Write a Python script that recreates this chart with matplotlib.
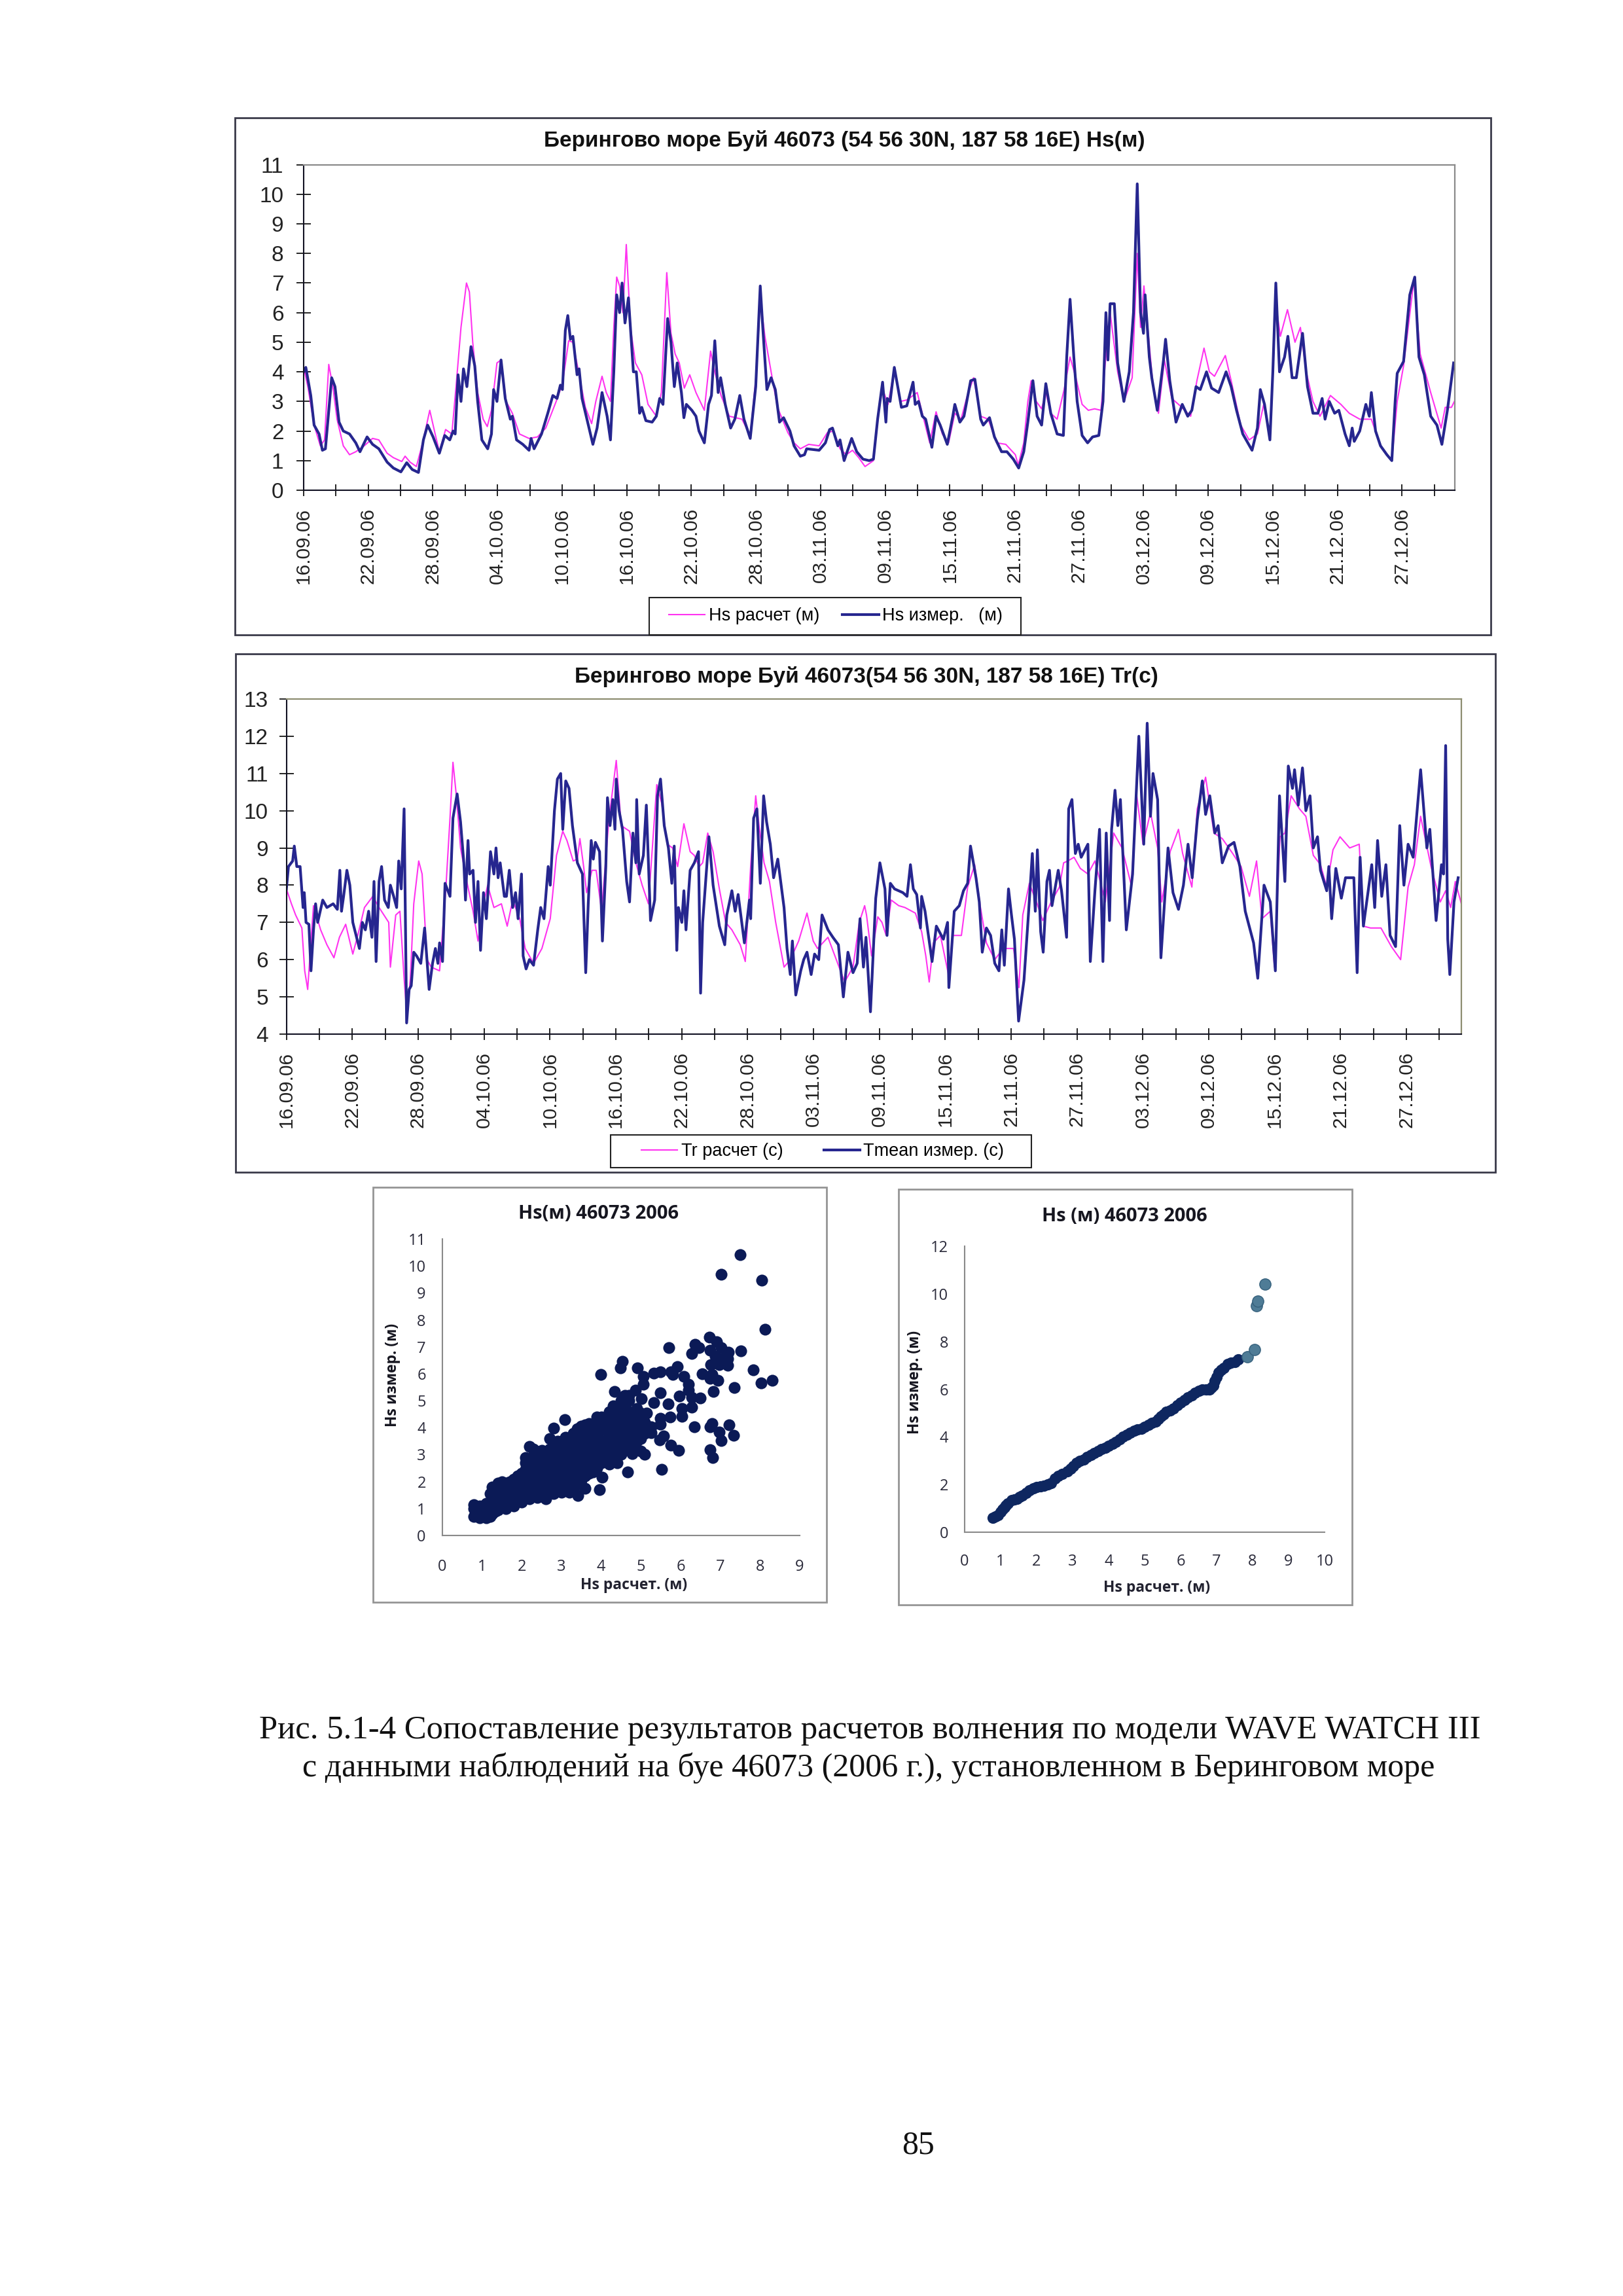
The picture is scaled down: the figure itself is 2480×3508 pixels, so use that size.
import matplotlib
matplotlib.use("Agg")
import matplotlib.pyplot as plt
from matplotlib.patches import Rectangle
import numpy as np

W, H = 2480, 3508
SANS = ['Liberation Sans', 'DejaVu Sans']
SERIF = ['Liberation Serif', 'DejaVu Serif']
NOTO = ['Open Sans', 'Noto Sans', 'DejaVu Sans']
MAGENTA = '#ff33f0'
NAVY = '#26268f'

date_labels = ['16.09.06', '22.09.06', '28.09.06', '04.10.06', '10.10.06', '16.10.06', '22.10.06', '28.10.06',
               '03.11.06', '09.11.06', '15.11.06', '21.11.06', '27.11.06', '03.12.06', '09.12.06', '15.12.06',
               '21.12.06', '27.12.06']

hs_calc = [(0,4.15),(.39,3.5),(.97,2.2),(1.55,1.5),(1.94,1.7),(2.33,4.25),(2.71,3.5),(3.1,2.4),(3.68,1.5),(4.26,1.2),(4.84,1.3),(5.62,1.5),(6.4,1.75),(6.98,1.7),(7.75,1.25),(8.33,1.1),(9.11,.97),(9.42,1.15),(9.88,.95),(10.47,.8),(11.05,1.6),(11.71,2.7),(12.21,1.9),(12.6,1.3),(13.18,2.05),(13.76,1.9),(14.15,3.5),(14.61,5.5),(15.12,7),(15.39,6.7),(15.7,5),(16.16,3.3),(16.67,2.4),(17.05,2.15),(17.44,2.7),(17.95,4.3),(18.33,4.4),(18.8,3),(19.38,2.6),(20.04,1.9),(20.93,1.75),(21.71,1.8),(22.48,2.1),(23.45,3),(24.03,3.6),(24.61,5.05),(25,5),(25.58,3.9),(26.16,2.8),(26.74,2.25),(27.13,3),(27.71,3.85),(28.1,3.3),(28.49,3),(28.8,5.5),(29.07,7.2),(29.34,6.9),(29.65,6),(29.96,8.3),(30.35,5.5),(30.81,4.3),(31.4,3.9),(31.98,2.9),(32.75,2.5),(33.22,3.3),(33.72,7.35),(34.11,5.3),(34.5,4.6),(34.88,4.3),(35.35,3.45),(35.85,3.9),(36.43,3.3),(37.21,2.7),(37.79,4.7),(38.18,4),(38.76,3.2),(39.53,2.5),(40.7,2.4),(41.47,1.85),(42.05,4),(42.4,6.5),(42.83,5.2),(43.41,4),(44,2.8),(44.96,1.95),(45.54,1.6),(46.12,1.4),(46.9,1.55),(47.87,1.5),(48.64,1.95),(49.22,2),(49.81,1.4),(50.39,1.2),(50.97,1.35),(51.55,1.1),(52.13,.8),
(52.91,1.0),(53.3,2.3),(53.69,3.5),(54.27,2.9),(54.85,4.1),(55.43,3),(56.01,3.05),(56.98,3.3),(57.45,2.6),(58.14,1.6),(58.73,2.65),(59.31,1.9),(59.89,1.6),(60.47,2.6),(61.05,2.4),(61.63,3.2),(62.21,3.8),(62.87,2.5),(63.57,2.4),(64.35,1.6),(65.2,1.55),(66.09,1.2),(66.36,.85),(66.87,1.6),(67.25,3),(67.56,3.7),(68.03,3),(68.53,2.75),(68.92,3.3),(69.38,2.6),(69.97,2.4),(70.62,3.4),(71.17,4.5),(71.71,3.8),(72.29,2.9),(72.87,2.7),(73.45,2.75),(74.04,2.7),(74.42,4.2),(74.89,6),(75.59,4),(76.17,3),(76.94,3.8),(77.41,8),(77.72,5.5),(78.03,6.9),(78.38,5.5),(78.88,3.5),(79.38,2.6),(79.93,4.4),(80.62,3.1),(81.4,2.85),(82.37,2.5),(82.95,3.7),(83.61,4.8),(84.11,4),(84.58,3.85),(85.59,4.55),(86.13,3.7),(87.02,2.2),(87.8,1.7),(88.57,1.9),(89.15,2.9),(89.73,1.8),(90.28,6.3),(90.7,5.2),(91.36,6.1),(92.06,5),(92.56,5.5),(93.1,4),(93.73,3),(94.38,2.5),(95.35,3.2),(96.32,2.9),(97.1,2.6),(98.07,2.4),(99.15,2.4),(100,1.5),(101.05,1),(101.55,3),(102.14,4.2),(103.1,7.1),(103.69,4.6),(104.66,3.3),(105.63,2.1),(106.01,2.8),(106.59,2.8),(106.86,3)]

hs_meas = [(0,4.0),(.2,4.15),(.66,3.2),(.97,2.2),(1.43,1.9),(1.74,1.35),(2.02,1.4),(2.6,3.8),(2.91,3.5),(3.29,2.3),(3.68,2.0),(4.26,1.9),(4.84,1.6),(5.23,1.3),(5.89,1.8),(6.4,1.55),(6.98,1.4),(7.75,.95),(8.33,.75),(9.03,.62),(9.57,.93),(10.08,.7),(10.66,.6),(11.12,1.7),(11.51,2.2),(12.02,1.8),(12.6,1.25),(13.1,1.85),(13.57,1.7),(13.88,2.0),(14.07,1.9),(14.34,3.9),(14.61,3.0),(14.84,4.1),(15.16,3.5),(15.54,4.85),(15.89,4.2),(16.16,3.0),(16.55,1.7),(17.09,1.4),(17.44,1.9),(17.64,3.4),(17.95,3.0),(18.33,4.4),(18.72,3.1),(19.19,2.4),(19.38,2.5),(19.77,1.7),(20.35,1.55),(20.93,1.35),(21.12,1.75),(21.4,1.4),(22.09,1.9),(22.67,2.6),(23.14,3.2),(23.53,3.1),(23.84,3.55),(24.03,3.4),(24.3,5.4),(24.53,5.9),(24.77,5.1),(25,5.2),(25.39,3.9),(25.58,4.1),(25.85,3.1),(26.24,2.5),(26.86,1.55),(27.25,2.1),(27.71,3.3),(28.18,2.5),(28.49,1.7),(28.8,4.0),(29.07,6.6),(29.34,6.0),(29.57,7.0),(29.84,5.65),(30.16,6.5),(30.62,4.0),(30.89,4.0),(31.2,2.6),(31.4,2.8),(31.78,2.35),(32.36,2.3),(32.75,2.5),(33.06,3.1),(33.37,2.9),(33.8,5.8),(34.11,5.0),(34.42,3.5),(34.69,4.3),(35.08,3.3),(35.31,2.45),(35.54,2.9),(36.05,2.7),(36.43,2.5),(36.71,2.0),(37.21,1.6),(37.6,2.9),(37.87,3.2),(38.18,5.05),(38.49,3.3),(38.72,3.8),(39.15,2.9),(39.65,2.1),(40.04,2.4),(40.5,3.2),(40.89,2.4),(41.47,1.75),(41.98,3.5),(42.4,6.9),(42.67,5.3),(43.02,3.4),(43.41,3.8),(43.8,3.4),(44.19,2.3),(44.57,2.45),(45.16,2.0),(45.54,1.5),(46.12,1.15),(46.51,1.2),(46.71,1.4),(47.87,1.35),(48.45,1.6),(48.84,2.05),(49.11,2.1),(49.61,1.5),(49.81,1.7),(50.19,1.0),(50.47,1.3),(50.89,1.75),(51.36,1.3),(51.94,1.05),(52.52,1.0),(52.91,1.05),
(53.3,2.4),(53.76,3.65),(54.07,2.3),(54.19,3.1),(54.46,3.0),(54.85,4.15),(55.12,3.6),(55.51,2.8),(56.01,2.85),(56.59,3.65),(56.79,2.9),(57.1,3.0),(57.45,2.5),(57.76,2.4),(58.34,1.45),(58.73,2.5),(59.11,2.2),(59.77,1.55),(60.28,2.5),(60.47,2.9),(60.94,2.3),(61.32,2.5),(61.94,3.7),(62.33,3.75),(62.87,2.4),(63.11,2.2),(63.69,2.45),(64.15,1.8),(64.81,1.3),(65.31,1.3),(65.9,1.05),(66.4,.75),(66.87,1.3),(67.25,2.3),(67.72,3.7),(68.11,2.5),(68.53,2.2),(68.92,3.6),(69.38,2.6),(69.97,1.9),(70.55,1.85),(70.86,4.5),(71.17,6.45),(71.52,4.5),(71.83,3.0),(72.29,1.85),(72.8,1.6),(73.26,1.8),(73.84,1.85),(74.23,3.0),(74.5,6.0),(74.69,4.4),(74.89,6.3),(75.28,6.3),(75.59,4.3),(76.17,3),(76.67,4.0),(77.06,6.0),(77.41,10.35),(77.72,6.0),(77.99,5.3),(78.14,6.6),(78.53,4.5),(78.76,3.8),(79.27,2.7),(79.85,4.4),(80.04,5.1),(80.43,3.7),(81.01,2.3),(81.59,2.9),(82.1,2.5),(82.48,2.7),(82.87,3.5),(83.26,3.4),(83.84,4.0),(84.31,3.45),(84.97,3.3),(85.66,4.0),(86.13,3.5),(86.63,2.7),(87.21,1.9),(88.07,1.35),(88.57,2.1),(88.84,3.4),(89.23,2.9),(89.73,1.7),(90,4),(90.28,7.0),(90.62,4.0),(91.09,4.5),(91.4,5.2),(91.79,3.8),(92.18,3.8),(92.76,5.3),(93.22,3.5),(93.73,2.6),(94.19,2.6),(94.58,3.1),(94.85,2.4),(95.24,3.0),(95.74,2.6),(96.13,2.7),(96.71,1.9),(97.1,1.5),(97.37,2.1),(97.56,1.65),(98.07,2.0),(98.64,2.9),(98.96,2.5),(99.15,3.3),(99.54,2.0),(100,1.5),(100.59,1.2),(101.05,1.0),(101.36,3.0),(101.55,3.95),(102.14,4.35),(102.72,6.6),(103.18,7.2),(103.57,4.5),(104.07,3.9),(104.66,2.5),(105.24,2.2),(105.7,1.55),(106.21,2.7),(106.79,4.3)]

tr_calc = [(0,7.9),(.46,7.5),(.84,7.2),(1.41,6.85),(1.67,5.7),(1.94,5.2),(2.24,6.5),(2.47,7.45),(3.12,6.8),(3.69,6.4),(4.33,6.05),(4.83,6.6),(5.4,6.95),(6.05,6.15),(6.54,6.7),(7.11,7.4),(7.87,7.7),(8.44,7.4),(9.32,7.0),(9.47,5.8),(9.96,7.2),(10.34,7.3),(10.72,5.5),(10.99,4.45),(11.29,5.5),(11.6,7.5),(12.05,8.65),(12.36,8.3),(12.81,6),(13.19,5.8),(13.95,5.7),(14.52,7.9),(14.9,9.8),(15.17,11.3),(15.48,10.4),(15.86,9),(16.43,8.1),(17,7.3),(17.45,6.5),(17.95,7.5),(18.33,8),(18.9,7.4),(19.58,7.5),(20.11,6.9),(20.61,7.6),(21.25,7.1),(21.75,6.3),(22.51,5.9),(23.27,6.3),(24.03,7.1),(24.6,8.8),(25.17,9.45),(25.55,9.2),(26.12,8.65),(26.5,8.7),(26.73,9.25),(27.07,8.5),(27.34,7.8),(27.83,8.4),(28.21,8.4),(28.71,7.3),(29.35,9.7),(30.04,11.35),(30.49,9.6),(31.25,9.45),(31.83,8.6),(32.4,8),(32.97,7.5),(33.73,10.7),(34.18,10.2),(34.68,9.1),(35.17,9),(35.63,8.5),(36.2,9.65),(36.77,8.9),(37.15,8.8),(37.6,8.5),(37.91,8.6),(38.37,9.4),(38.86,8.9),(39.43,7.9),(40,7),(40.57,6.8),(41.33,6.4),(41.79,5.95),(42.28,8.5),(42.74,10.4),(43.04,9.6),(43.5,8.6),(43.99,8.1),(44.56,7),(45.32,5.8),(45.89,6),(46.65,6.5),(47.41,7.25),(47.98,6.5),(48.37,6.3),(49.32,6.6),(50.08,6),(50.84,5.4),(51.6,5.8),(52.17,7),(52.66,7.45),(52.83,7.2),(53.29,6.1),(53.86,7.15),(54.24,7),(54.62,6.65),(55.08,7.6),(55.76,7.45),(56.33,7.4),(57.28,7.25),(57.85,6.75),(58.23,6.1),(58.54,5.4),(58.92,6.45),(59.56,6.65),(60.33,5.55),(60.71,6.65),(61.47,6.65),(62.04,7.95),(62.68,8.55),(63.18,7.45),(63.75,6.45),(64.51,6),(65.27,6.3),(66.22,6.3),(66.71,5.25),(67.06,7.2),(67.66,8.05),(68.31,7.55),(68.88,7.05),(69.64,7.55),(70.4,7.95),(70.78,8.6),(71.16,8.65),(71.73,8.75),(72.3,8.45),(72.99,8.3),(73.63,8.65),(74.2,8),(74.58,7.55),(75.34,9.4),(76.1,9),(76.94,8),(77.44,10.4),(78.01,9.1),(78.69,9.95),(79.34,9),(79.72,7.55),(80.48,8.9),(81.24,9.5),(81.62,8.85),(82.46,7.95),(82.95,10.05),(83.71,10.9),(84.47,9.4),(85.23,9.25),(86.18,8.85),(86.94,8.5),(87.7,7.7),(88.35,8.65),(88.84,7.1),(89.6,7.3),(89.98,5.8),(90.48,9.3),(90.93,9.4),(91.5,10.4),(92.26,10.05),(92.84,9.85),(93.52,8.8),(94.17,8.55),(94.74,7.95),(95.31,8.95),(95.95,9.3),(96.83,9),(97.7,9.1),(98.08,6.9),(98.73,6.85),(99.68,6.85),(100.63,6.35),(101.47,6),(102.15,7.95),(102.72,8.55),(103.29,9.85),(104.24,8.5),(105.08,7.55),(105.57,7.85),(106.03,7.4),(106.45,8.1),(107,7.5)]

tr_meas = [(0,7.9),(.19,8.5),(.57,8.65),(.72,9.05),(.95,8.5),(1.25,8.5),(1.52,7.4),(1.63,7.8),(1.79,7.0),(2.05,6.95),(2.24,5.7),(2.47,6.8),(2.66,7.5),(2.85,7.0),(3.31,7.6),(3.69,7.4),(4.26,7.5),(4.64,7.35),(4.87,8.4),(5.02,7.3),(5.21,7.7),(5.51,8.4),(5.78,8.0),(6.05,7.0),(6.35,6.65),(6.65,6.3),(6.92,7.0),(7.19,6.8),(7.49,7.3),(7.79,6.6),(7.98,8.1),(8.17,5.95),(8.44,8.1),(8.67,8.5),(8.94,7.6),(9.28,7.4),(9.47,8.0),(9.77,7.7),(10.04,7.4),(10.23,8.65),(10.46,7.9),(10.72,10.05),(10.95,4.3),(11.18,5.2),(11.37,5.3),(11.6,6.2),(11.86,6.1),(12.24,5.9),(12.59,6.85),(13,5.2),(13.31,5.9),(13.57,6.3),(13.8,5.9),(13.95,6.45),(14.22,5.95),(14.45,8.05),(14.9,7.7),(15.17,9.8),(15.55,10.45),(15.86,9.7),(16.16,8.6),(16.31,7.6),(16.54,9.2),(16.69,8.3),(17,8.4),(17.22,7.0),(17.45,8.1),(17.68,6.25),(17.95,7.8),(18.21,7.1),(18.59,8.9),(18.9,8.3),(19.09,9.0),(19.28,8.2),(19.47,8.6),(19.85,7.7),(20.04,7.7),(20.3,8.4),(20.61,7.4),(20.87,7.8),(21.1,7.1),(21.41,8.3),(21.56,6.1),(21.83,5.75),(22.13,6.0),(22.51,5.85),(22.89,6.8),(23.16,7.4),(23.46,7.1),(23.84,8.5),(24.03,8.0),(24.41,10.0),(24.68,10.85),(24.98,11.0),(25.17,9.5),(25.44,10.8),(25.74,10.6),(26.05,9.6),(26.5,8.6),(26.96,8.3),(27.26,5.65),(27.49,7.5),(27.76,9.2),(27.95,8.7),(28.14,9.15),(28.52,8.9),(28.78,6.5),(29.09,8.5),(29.24,10.35),(29.47,9.6),(29.73,10.3),(29.92,9.5),(30.04,10.85),(30.3,10),(30.61,9.5),(30.99,8.1),(31.25,7.55),(31.56,9.4),(31.83,8.6),(31.9,10.3),(32.13,8.3),(32.51,8.8),(32.78,10.15),(33.16,7.05),(33.54,7.6),(33.8,10.4),(34.07,10.85),(34.41,9.6),(34.79,9.0),(35.1,8.05),(35.32,9.05),(35.55,6.25),(35.7,7.4),(36.01,7.0),(36.2,7.85),(36.39,6.8),(36.77,8.4),(37.15,8.6),(37.53,8.9),(37.72,5.1),(37.91,7),(38.48,9.3),(38.86,8),(39.43,6.9),(39.92,6.4),(40.11,7.2),(40.57,7.85),(40.87,7.3),(41.14,7.75),(41.71,6.45),(42.17,7.6),(42.28,7.1),(42.55,9.8),(42.85,10.05),(43.16,8.05),(43.46,10.4),(43.73,9.7),(44.07,9.1),(44.37,8.2),(44.75,8.7),(45.32,7.4),(45.59,6.3),(45.89,5.6),(46.08,6.5),(46.39,5.05),(46.84,5.7),(47.11,6.0),(47.41,6.2),(47.79,5.6),(48.1,6.15),(48.48,6.0),(48.78,7.2),(49.32,6.8),(49.77,6.6),(50.27,6.4),(50.72,5.0),(51.14,6.2),(51.6,5.65),(51.98,5.9),(52.24,7.1),(52.55,5.8),(52.78,6.6),(53.19,4.6),
(53.67,7.65),(54.05,8.6),(54.51,7.9),(54.7,6.65),(55.0,8.05),(55.38,7.9),(56.14,7.8),(56.52,7.7),(56.83,8.55),(57.09,7.9),(57.4,7.75),(57.74,6.85),(57.85,7.7),(58.16,7.3),(58.8,5.95),(59.19,6.9),(59.83,6.55),(60.21,7),(60.33,5.25),(60.82,7.3),(61.28,7.45),(61.66,7.85),(62.04,8.05),(62.3,9.05),(62.8,8.2),(63.1,7.55),(63.37,6.2),(63.75,6.85),(64.13,6.65),(64.51,5.9),(64.89,5.7),(65.15,6.8),(65.38,5.85),(65.76,7.9),(66.03,7.2),(66.3,6.55),(66.68,4.35),(67.17,5.45),(67.55,7.1),(67.93,8.85),(68.2,7.3),(68.39,8.95),(68.69,6.75),(68.92,6.2),(69.26,8.1),(69.49,8.4),(69.72,7.45),(70.29,8.4),(70.59,7.85),(71.05,6.6),(71.24,10.05),(71.54,10.3),(71.85,8.85),(72.11,9.1),(72.38,8.75),(72.99,9.1),(73.21,5.95),(73.63,7.85),(74.05,9.5),(74.36,5.95),(74.66,9.4),(74.96,7.05),(75.15,9.5),(75.46,10.55),(75.72,9.6),(75.95,10.3),(76.49,6.8),(77.06,8.3),(77.63,12),(78.08,9.1),(78.39,12.35),(78.69,9.85),(78.92,11),(79.34,10.3),(79.64,6.05),(80.29,9),(80.74,7.8),(81.24,7.35),(81.69,8),(82.11,9.1),(82.49,8.2),(82.95,9.75),(83.41,10.8),(83.71,9.9),(84.09,10.4),(84.55,9.4),(84.85,9.6),(85.23,8.6),(85.8,9.05),(86.3,9.15),(86.83,8.5),(87.32,7.3),(88.08,6.45),(88.46,5.5),(89.03,8),(89.6,7.55),(90.06,5.7),(90.44,10.4),(90.93,8.1),(91.24,11.2),(91.62,10.6),(91.81,11.1),(92.15,10.15),(92.53,11.15),(92.84,10),(93.22,10.4),(93.52,9),(93.9,9.3),(94.17,8.4),(94.74,7.85),(94.93,8.5),(95.19,7.1),(95.57,8.45),(96.07,7.65),(96.45,8.2),(97.21,8.2),(97.51,5.65),(97.78,8.75),(98.08,6.9),(98.54,7.9),(98.84,8.55),(99.11,7.4),(99.37,9.2),(99.75,7.7),(100.13,8.55),(100.51,6.65),(101.01,6.35),(101.39,9.6),(101.77,8),(102.15,9.1),(102.61,8.75),(103.29,11.1),(103.86,9),(104.13,9.5),(104.7,7.05),(105.19,8.55),(105.38,8.3),(105.57,11.75),(105.76,6.55),(105.95,5.6),(106.33,7.55),(106.71,8.2)]

scatter_pts = [(.8,.7),(.8,1.0),(.8,1.15),(.95,.65),(.95,.9),(.95,1.1),(1.1,.65),(1.1,.9),(1.1,1.2),(1.25,.8),(1.25,1.1),(1.25,1.4),(1.25,1.8),(1.4,.95),(1.4,1.25),(1.4,1.55),(1.4,1.95),(1.6,1.0),(1.6,1.3),(1.6,1.6),(1.6,1.95),(1.8,1.1),(1.8,1.45),(1.8,1.8),(1.8,2.1),(2.0,1.25),(2.0,1.6),(2.0,1.95),(2.0,2.3),(2.1,2.9),(2.2,1.35),(2.2,1.7),(2.2,2.05),(2.2,2.4),(2.2,2.75),(2.2,3.3),(2.4,1.4),(2.4,1.8),(2.4,2.2),(2.4,2.6),(2.4,3.0),(2.6,1.35),(2.6,1.8),(2.6,2.2),(2.6,2.6),(2.6,3.05),(2.8,1.55),(2.8,1.95),(2.8,2.35),(2.8,2.75),(2.8,3.1),(2.7,3.6),(2.8,3.98),(3.0,1.6),(3.0,2.0),(3.0,2.4),(3.0,2.8),(3.0,3.2),(3.0,3.5),(3.09,4.3),(3.2,1.6),(3.2,2.0),(3.2,2.4),(3.2,2.8),(3.2,3.2),(3.2,3.6),(3.42,1.47),(3.4,1.9),(3.4,2.3),(3.4,2.7),(3.4,3.1),(3.4,3.5),(3.4,3.95),(3.6,1.75),(3.6,2.2),(3.6,2.6),(3.6,3.0),(3.6,3.4),(3.6,3.8),(3.6,4.1),(3.8,2.35),(3.8,2.7),(3.8,3.1),(3.8,3.5),(3.8,3.9),(3.8,4.1),(3.95,1.7),(4.03,2.15),(4.0,2.7),(4.0,3.1),(4.0,3.5),(4.0,3.9),(4.0,4.4),(4.2,2.65),(4.2,3.0),(4.2,3.4),(4.2,3.8),(4.2,4.2),(4.2,4.6),(4.4,2.7),(4.4,3.1),(4.4,3.5),(4.4,3.9),(4.4,4.3),(4.4,4.75),(4.6,3.2),(4.6,3.6),(4.6,4.0),(4.6,4.4),(4.6,4.8),(4.6,5.2),(4.8,3.3),(4.8,3.7),(4.8,4.1),(4.8,4.5),(5.0,3.6),(5.0,4.0),(5.0,4.55),(4.66,2.35),(5.53,2.45),(4.78,3.03),(5.1,3.0),(5.0,3.13),
(7.5,10.41),(7.03,9.68),(8.05,9.47),(8.13,7.65),(8.31,5.76),(8.03,5.66),(7.83,6.15),(7.52,6.85),(5.71,6.97),(3.99,5.97),(4.54,6.45),(4.48,6.21),(4.91,6.21),(5.06,5.9),(5.33,6.03),(5.49,6.08),(5.76,6.08),(5.92,6.26),(5.8,5.97),(6.08,5.9),(6.2,5.6),(6.55,6.0),(6.28,6.74),(6.37,7.1),(6.47,6.97),(6.73,7.36),(6.91,7.18),(7.03,6.97),(7.2,6.81),(6.75,6.87),(6.87,6.66),(7.06,6.55),(7.18,6.55),(6.76,6.34),(6.98,6.34),(7.18,6.31),(6.79,5.97),(6.94,5.76),(6.75,5.82),(6.83,5.34),(7.36,5.5),(7.22,4.1),(6.79,4.15),(6.75,4.03),(6.35,4.03),(6.98,3.84),(7.34,3.71),(7.03,3.52),(6.75,3.19),(6.81,2.89),(5.95,3.15),(5.75,3.34),(5.57,3.69),(5.47,3.55),(5.49,5.29),(5.96,5.18),(6.5,5.1),(6.28,5.13),(6.04,4.71),(6.28,4.76),(6.04,4.43),(5.73,4.4),(5.69,4.87),(5.33,4.92),(5.49,4.34),(5.49,4.13),(5.26,4.03),(5.02,5.08),(4.86,5.39),(5.06,5.6),(4.33,5.34),(4.58,5.18),(5.14,4.55),(4.94,4.5),(5.26,3.82),(6.2,5.39),
(.9,.8),(.9,1.05),(1.05,.8),(1.05,1.05),(1.2,.7),(1.2,.95),(1.2,1.25),(1.2,1.55),(1.33,.9),(1.33,1.2),(1.33,1.5),(1.33,1.75),(1.5,1.1),(1.5,1.4),(1.5,1.75),(1.5,2.0),(1.7,1.15),(1.7,1.45),(1.7,1.75),(1.7,2.0),(1.9,1.3),(1.9,1.6),(1.9,1.95),(1.9,2.2),(2.1,1.4),(2.1,1.75),(2.1,2.1),(2.1,2.45),(2.1,2.7),(2.3,1.5),(2.3,1.9),(2.3,2.25),(2.3,2.6),(2.3,2.95),(2.3,3.2),(2.5,1.55),(2.5,2.0),(2.5,2.4),(2.5,2.8),(2.5,3.15),(2.7,1.6),(2.7,2.0),(2.7,2.4),(2.7,2.8),(2.7,3.2),(2.9,1.75),(2.9,2.15),(2.9,2.55),(2.9,2.95),(2.9,3.35),(2.9,3.5),(3.1,1.8),(3.1,2.2),(3.1,2.6),(3.1,3.0),(3.1,3.4),(3.1,3.65),(3.3,1.75),(3.3,2.2),(3.3,2.6),(3.3,3.0),(3.3,3.4),(3.3,3.8),(3.5,2.05),(3.5,2.45),(3.5,2.85),(3.5,3.25),(3.5,3.65),(3.5,4.05),(3.7,2.3),(3.7,2.6),(3.7,3.0),(3.7,3.4),(3.7,3.8),(3.7,4.15),(3.9,2.5),(3.9,2.9),(3.9,3.3),(3.9,3.7),(3.9,4.1),(3.9,4.4),(4.1,2.75),(4.1,3.1),(4.1,3.5),(4.1,3.9),(4.1,4.3),(4.3,2.85),(4.3,3.25),(4.3,3.65),(4.3,4.05),(4.3,4.45),(4.3,4.8),(4.5,3.0),(4.5,3.4),(4.5,3.8),(4.5,4.2),(4.5,4.6),(4.5,5.0),(4.7,3.4),(4.7,3.8),(4.7,4.2),(4.7,4.6),(4.7,5.0),(4.7,5.2),(4.9,3.5),(4.9,3.9),(4.9,4.3),(4.9,4.7),(5.1,3.8),(5.1,4.2)]

qq_pts = [(.78,.6),(.85,.65),(.92,.72),(1.0,.85),(1.05,.95),(1.1,1.05),(1.15,1.12),(1.2,1.2),(1.3,1.35),(1.38,1.38),(1.45,1.4),(1.53,1.48),(1.6,1.55),(1.7,1.65),(1.8,1.75),(1.9,1.83),(2,1.9),(2.1,1.93),(2.2,1.95),(2.3,2.0),(2.4,2.05),(2.5,2.25),(2.6,2.35),(2.7,2.45),(2.85,2.55),(2.95,2.65),(3.02,2.78),(3.1,2.9),(3.2,2.98),(3.3,3.05),(3.4,3.15),(3.5,3.25),(3.6,3.33),(3.7,3.4),(3.8,3.48),(3.9,3.55),(4.0,3.62),(4.1,3.7),(4.2,3.8),(4.3,3.9),(4.4,4.0),(4.5,4.1),(4.6,4.18),(4.7,4.25),(4.8,4.3),(4.9,4.35),(5.0,4.42),(5.1,4.5),(5.2,4.58),(5.3,4.65),(5.38,4.75),(5.45,4.85),(5.52,4.95),(5.6,5.05),(5.7,5.12),(5.8,5.2),(5.9,5.33),(6,5.45),(6.1,5.55),(6.2,5.65),(6.3,5.75),(6.4,5.85),(6.5,5.93),(6.6,6.0),(6.7,6.0),(6.8,6.0),(6.85,6.08),(6.9,6.15),(6.95,6.33),(7.0,6.5),(7.05,6.7),(7.12,6.8),(7.2,6.9),(7.3,7.05),(7.4,7.1),(7.5,7.15),(7.6,7.25)]
qq_tail = [(7.85,7.35),(8.05,7.65),(8.1,9.5),(8.15,9.7),(8.35,10.4)]


def px_axes(l, t, r, b):
    return fig.add_axes([l / W, 1 - b / H, (r - l) / W, (b - t) / H])


def frame(l, t, r, b, color, lw):
    fig.add_artist(Rectangle((l / W, 1 - b / H), (r - l) / W, (b - t) / H, transform=fig.transFigure,
                             fill=False, edgecolor=color, linewidth=lw))


def text_px(x, y, s, **kw):
    fig.text(x / W, 1 - y / H, s, ha='center', va='center', **kw)


def series_chart(box, calc, meas, xmax, ymin, ymax, edge, ypad, xpad, legend_center, labels, col_space):
    ax = px_axes(*box)
    ax.plot(*zip(*calc), color=MAGENTA, lw=1.5, label=labels[0], solid_joinstyle='round')
    ax.plot(*zip(*meas), color=NAVY, lw=3.0, label=labels[1], solid_joinstyle='round')
    ax.set_xlim(0, xmax)
    ax.set_ylim(ymin, ymax)
    ax.set_yticks(range(ymin, ymax + 1))
    ax.set_xticks(np.arange(0, 106, 3), minor=True)
    ax.set_xticks(np.arange(0, 6 * len(date_labels), 6))
    ax.set_xticklabels(date_labels, rotation=90, family=SANS, fontsize=21.5, color='#222222')
    for label in ax.get_yticklabels():
        label.set_family(SANS)
    ax.tick_params(axis='y', direction='inout', length=16, width=1.2, labelsize=24, pad=ypad, labelcolor='#222222')
    ax.tick_params(axis='x', which='both', direction='inout', length=13, width=1.2, pad=xpad)
    for side in ('top', 'right'):
        ax.spines[side].set_color(edge)
        ax.spines[side].set_linewidth(1.6)
    for side in ('left', 'bottom'):
        ax.spines[side].set_color('#111122')
        ax.spines[side].set_linewidth(1.5)
    ax.legend(loc='center', bbox_to_anchor=(legend_center[0] / W, 1 - legend_center[1] / H),
              bbox_transform=fig.transFigure, ncols=2, frameon=False, prop={'family': SANS, 'size': 19.5},
              handlelength=2.05, handletextpad=0.2, columnspacing=col_space, borderpad=0, borderaxespad=0)
    return ax


def scatter_chart(box, xmax, ymax, yticks, title, tc, ylab_x, ylab_y, xlab_c, pts, xpad, tail=None, color='#0b1a56', s=170):
    ax = px_axes(*box)
    ax.scatter(*zip(*pts), s=s, color=color, clip_on=False, linewidths=0, zorder=3)
    if tail:
        ax.scatter(*zip(*tail), s=s, color='#4f7c96', edgecolors='#35607c', linewidths=1, clip_on=False, zorder=3)
    ax.set_xlim(0, xmax)
    ax.set_ylim(0, ymax)
    ax.set_xticks(range(0, xmax + 1))
    ax.set_yticks(yticks)
    for label in ax.get_xticklabels() + ax.get_yticklabels():
        label.set_family(NOTO)
    ax.tick_params(axis='both', length=0, labelsize=17, labelcolor='#2a2a3a')
    ax.tick_params(axis='x', pad=xpad)
    ax.tick_params(axis='y', pad=18)
    ax.spines[['top', 'right']].set_visible(False)
    ax.spines[['left', 'bottom']].set_color('#8a8a8a')
    ax.spines[['left', 'bottom']].set_linewidth(1.5)
    text_px(tc[0], tc[1], title, family=NOTO, fontsize=21, fontweight='bold', color='#161620')
    text_px(xlab_c[0], xlab_c[1], 'Hs расчет. (м)', family=NOTO, fontsize=16.5, fontweight='bold', color='#222230')
    text_px(ylab_x, ylab_y, 'Hs измер. (м)', family=NOTO, fontsize=16.5, fontweight='bold', rotation=90, color='#161620')
    return ax


fig = plt.figure(figsize=(W / 100, H / 100), dpi=100, facecolor='white')

frame(359, 180, 2278, 970, '#3a3a4a', 2)
frame(360, 999, 2285, 1791, '#3a3a4a', 2)
frame(570, 1814, 1263, 2448, '#959595', 2)
frame(1373, 1817, 2066, 2452, '#959595', 2)
frame(992, 913, 1560, 970, '#222222', 1.5)
frame(933, 1734, 1575.5, 1784, '#222222', 1.5)

series_chart((464, 251.5, 2223, 749), hs_calc, hs_meas, 106.9, 0, 11, '#8a8a8a', 14, 13, (1277, 941),
             ('Hs расчет (м)', 'Hs измер.   (м)'), 1.3)
text_px(1290, 215, 'Берингово море Буй 46073 (54 56 30N, 187 58 16E) Hs(м)', family=SANS, fontsize=24,
        fontweight='bold', color='#111111')

series_chart((437.6, 1068, 2233, 1580), tr_calc, tr_meas, 107, 4, 13, '#8d8d70', 12, 13, (1257, 1759),
             ('Tr расчет (с)', 'Tmean измер. (с)'), 2.3)
text_px(1324, 1034, 'Берингово море Буй 46073(54 56 30N, 187 58 16E) Tr(с)', family=SANS, fontsize=24,
        fontweight='bold', color='#111111')

scatter_chart((675.8, 1893, 1222, 2346), 9, 11, range(0, 12), 'Hs(м) 46073 2006', (915, 1855), 600, 2101, (969, 2422),
              scatter_pts, 26)
scatter_chart((1474, 1904, 2024, 2341), 10, 12, range(0, 13, 2), 'Hs (м) 46073 2006', (1718, 1858), 1398, 2112, (1768, 2426),
              qq_pts, 24, tail=qq_tail, color='#0e2760', s=155)

text_px(1329, 2644, 'Рис. 5.1-4 Сопоставление результатов расчетов волнения по модели WAVE WATCH III',
        family=SERIF, fontsize=36.5, color='#111111')
text_px(1327, 2701, 'с данными наблюдений на буе 46073 (2006 г.), установленном в Беринговом море',
        family=SERIF, fontsize=36, color='#111111')
text_px(1403, 3278, '85', family=SERIF, fontsize=36, color='#111111')

fig.savefig('out.png', dpi=100, facecolor='white')
